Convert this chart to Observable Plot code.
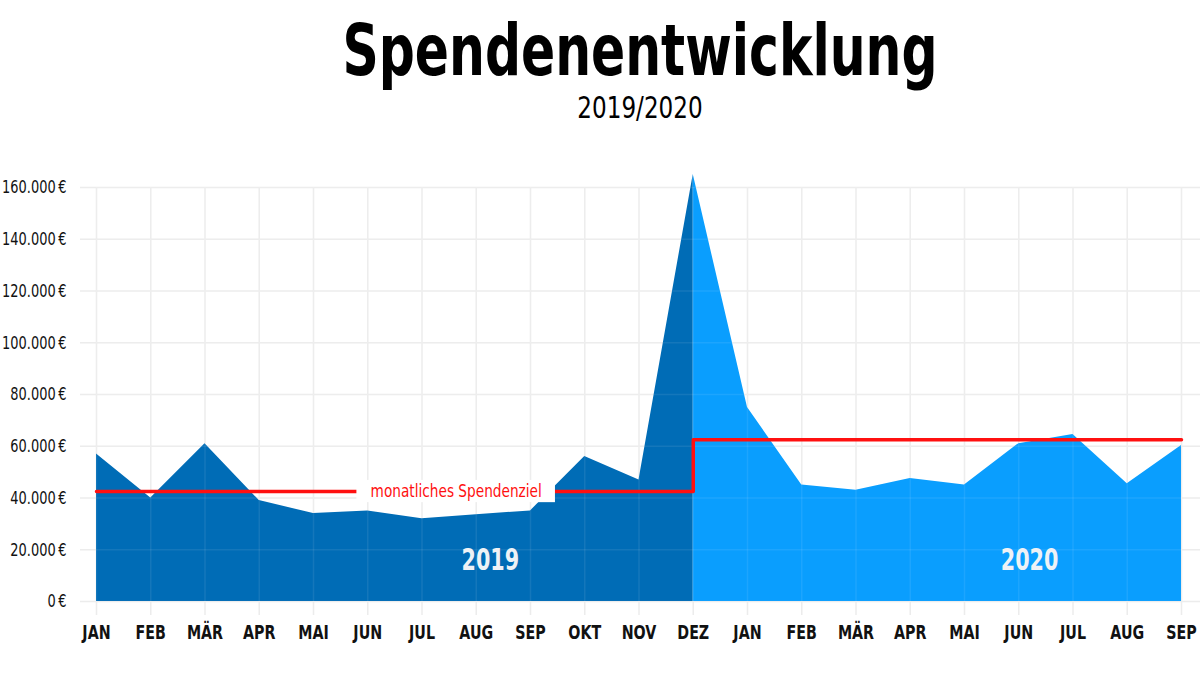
<!DOCTYPE html>
<html><head><meta charset="utf-8">
<script src="https://cdn.jsdelivr.net/npm/d3@7"></script>
<script src="https://cdn.jsdelivr.net/npm/@observablehq/plot@0.6"></script>
<style>
body{margin:0;background:#fff;width:1200px;height:675px;overflow:hidden;font-family:"DejaVu Sans",sans-serif;}
#head{position:relative;height:130px;}
#title{position:absolute;left:0;width:1280px;text-align:center;top:14px;font-size:72px;font-weight:bold;color:#000;line-height:1;transform:scaleX(0.70);transform-origin:640px 0;}
#sub{position:absolute;left:0;width:1280px;text-align:center;top:92px;font-size:31px;color:#000;line-height:1;transform:scaleX(0.745);transform-origin:640px 0;}
#chart svg{display:block;font-family:"DejaVu Sans",sans-serif;overflow:visible;}
</style></head>
<body>
<div id="head"><div id="title">Spendenentwicklung</div><div id="sub">2019/2020</div></div>
<div id="chart"></div>
<script>
const months = ["JAN","FEB","MÄR","APR","MAI","JUN","JUL","AUG","SEP","OKT","NOV","DEZ",
                "JAN","FEB","MÄR","APR","MAI","JUN","JUL","AUG","SEP"];
const donations = [57000,40000,61000,39000,34000,35000,32000,33500,35000,56000,47000,165000,
                   75000,45000,43000,47500,45000,61000,64500,45500,60300];
const years = ["2019","2019","2019","2019","2019","2019","2019","2019","2019","2019","2019","2019",
               "2020","2020","2020","2020","2020","2020","2020","2020","2020"];
const goalYears = ["2019","2020"];
const goalValues = [42500,62500];
const yTicks = [0,20000,40000,60000,80000,100000,120000,140000,160000];
const goalLabel = "monatliches Spendenziel";

const data = months.map((m,i)=>({i, m, v:donations[i], year:years[i]}));
const last2019 = data.filter(d=>d.year==="2019").length - 1;
const d2019 = data.slice(0, last2019+1);
const d2020 = data.slice(last2019);
const goalLine = [
  {i:0, v:goalValues[0]}, {i:last2019, v:goalValues[0]},
  {i:last2019, v:goalValues[1]}, {i:months.length-1, v:goalValues[1]}
];
const labelAnchor = [{i:6.63, v:goalValues[0], text:goalLabel}];
const yearLabels = [
  {i:7.26, v:15800, text:goalYears[0]},
  {i:17.2, v:15800, text:goalYears[1]}
];
const fmt = v => (v===0 ? "0" : d3.format(",")(v).replace(/,/g,".")) + "\u2009€";

const chart = Plot.plot({
  width:1200, height:545,
  marginTop:57, marginBottom:74, marginLeft:96, marginRight:19,
  x:{domain:[0,months.length-1], axis:null},
  y:{domain:[0,160000], axis:null},
  marks:[
    Plot.ruleY(yTicks, {stroke:"#ececec", strokeWidth:1.5, insetLeft:-16, insetRight:-19}),
    Plot.ruleX(d3.range(months.length), {stroke:"#ececec", strokeWidth:1.5, insetBottom:-14}),
    Plot.areaY(d2019, {x:"i", y:"v", fill:"#006cb6"}),
    Plot.areaY(d2020, {x:"i", y:"v", fill:"#0a9efe"}),
    Plot.ruleY(yTicks, {stroke:"#ffffff", strokeOpacity:0.08, strokeWidth:1.5}),
    Plot.ruleX(d3.range(months.length), {stroke:"#ffffff", strokeOpacity:0.08, strokeWidth:1.5}),
    Plot.line(goalLine, {x:"i", y:"v", stroke:"#ff1010", strokeWidth:3.5}),
    Plot.rect(labelAnchor, {x1:d=>d.i-1.83, x2:d=>d.i+1.83, y1:d=>d.v-4300, y2:d=>d.v+4300, fill:"#fff"}),
    Plot.text(labelAnchor, {x:"i", y:"v", text:"text", fill:"#ff1010", fontSize:18, className:"goal-label"}),
    Plot.text(yearLabels, {x:"i", y:"v", text:"text", fill:"#eef2f6", fontSize:30, fontWeight:"bold", className:"year-label"}),
    Plot.axisY(yTicks, {tickSize:0, tickPadding:30, tickFormat:fmt, fontSize:18, color:"#111", label:null, className:"ytick"}),
    Plot.axisX(d3.range(months.length), {tickSize:0, tickPadding:24, tickFormat:i=>months[i], fontSize:19, fontWeight:"bold", color:"#111", label:null, className:"xtick"})
  ]
});
document.getElementById("chart").appendChild(chart);

// condense glyphs (no condensed face installed)
const squeeze = (sel, k) => d3.select(chart).selectAll(sel).each(function(){
  const w = this.getComputedTextLength();
  this.setAttribute("textLength", w * k);
  this.setAttribute("lengthAdjust", "spacingAndGlyphs");
});
squeeze(".ytick text", 0.72);
squeeze(".xtick text", 0.75);
squeeze(".goal-label text", 0.76);
squeeze(".year-label text", 0.69);
</script>
</body></html>
